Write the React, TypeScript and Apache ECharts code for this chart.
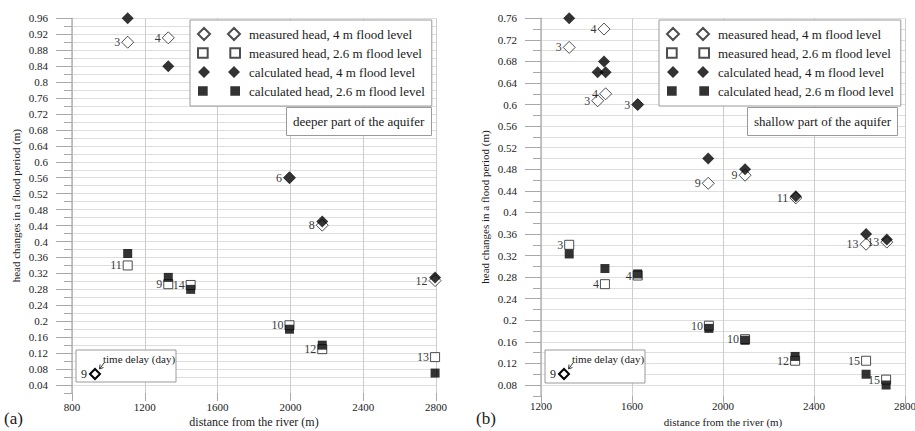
import React, { useEffect, useRef } from 'react';
import * as echarts from 'echarts';

const FONT = '"Liberation Serif", "DejaVu Serif", serif';
const TXT = '#1a1a1a';

// ---------- chart (a): deeper part of the aquifer ----------
const distA4 = [1106, 1329, 1995, 2175, 2795];
const measA4 = [0.90, 0.911, 0.56, 0.441, 0.302];
const calcA4 = [0.96, 0.84, 0.56, 0.45, 0.31];
const delayA4 = [3, 4, 6, 8, 12];

const distA26 = [1106, 1329, 1452, 1995, 2175, 2795];
const measA26 = [0.34, 0.293, 0.291, 0.19, 0.13, 0.11];
const calcA26 = [0.37, 0.31, 0.28, 0.18, 0.14, 0.07];
const delayA26 = [11, 9, 14, 10, 12, 13];

const xTicksA = [800, 1200, 1600, 2000, 2400, 2800];
const yTicksA = [0.04, 0.08, 0.12, 0.16, 0.2, 0.24, 0.28, 0.32, 0.36, 0.4, 0.44, 0.48,
  0.52, 0.56, 0.6, 0.64, 0.68, 0.72, 0.76, 0.8, 0.84, 0.88, 0.92, 0.96];

// ---------- chart (b): shallow part of the aquifer ----------
const distB4 = [1324, 1477, 1449, 1484, 1625, 1935, 2097, 2320, 2629, 2720];
const measB4 = [0.706, 0.74, 0.607, 0.62, 0.60, 0.454, 0.469, 0.427, 0.341, 0.345];
const calcB4 = [0.76, 0.68, 0.66, 0.66, 0.60, 0.50, 0.48, 0.43, 0.36, 0.35];
const delayB4 = [3, 4, 3, 4, 3, 9, 9, 11, 13, 13];

const distB26 = [1324, 1481, 1625, 1938, 2097, 2317, 2629, 2717];
const measB26 = [0.34, 0.267, 0.283, 0.19, 0.165, 0.125, 0.125, 0.09];
const calcB26 = [0.323, 0.296, 0.286, 0.185, 0.163, 0.133, 0.10, 0.08];
const delayB26 = [3, 4, 4, 10, 10, 12, 15, 15];

const xTicksB = [1200, 1600, 2000, 2400, 2800];
const yTicksB = [0.08, 0.12, 0.16, 0.2, 0.24, 0.28, 0.32, 0.36, 0.4, 0.44, 0.48, 0.52,
  0.56, 0.6, 0.64, 0.68, 0.72, 0.76];

const NAMES = [
  'measured head, 4 m flood level',
  'measured head, 2.6 m flood level',
  'calculated head, 4 m flood level',
  'calculated head, 2.6 m flood level',
];

const DIAMOND_PAIR = 'path://M0,6L6,0L12,6L6,12Z M30,6L36,0L42,6L36,12Z';
const SQUARE_PAIR = 'path://M1.5,1.5H10.5V10.5H1.5Z M31.5,1.5H40.5V10.5H31.5Z';
const DIAMOND = 'path://M0,6L6,0L12,6L6,12Z';

const fmt = (v: number) => String(+(+v).toFixed(2));

function makeSeries(
  xi: number, yi: number,
  d4: number[], m4: number[], c4: number[], l4: number[],
  d26: number[], m26: number[], c26: number[], l26: number[],
) {
  const lbl = () => ({
    show: true, position: 'left', distance: 1,
    formatter: (p: any) => String(p.value[2]),
    fontFamily: FONT, fontSize: 12, color: '#000000', textBorderWidth: 0,
  });
  const open = { color: '#ffffff', borderColor: '#222222', borderWidth: 1 };
  const fill = { color: '#000000' };
  return [
    {
      name: NAMES[0], type: 'scatter', xAxisIndex: xi, yAxisIndex: yi,
      symbol: DIAMOND, symbolSize: 12, itemStyle: open, label: lbl(),
      data: d4.map((d, i) => [d, m4[i], l4[i]]),
    },
    {
      name: NAMES[1], type: 'scatter', xAxisIndex: xi, yAxisIndex: yi,
      symbol: 'rect', symbolSize: 9, itemStyle: open, label: lbl(),
      data: d26.map((d, i) => [d, m26[i], l26[i]]),
    },
    {
      name: NAMES[2], type: 'scatter', xAxisIndex: xi, yAxisIndex: yi,
      symbol: DIAMOND, symbolSize: 12, itemStyle: fill,
      data: d4.map((d, i) => [d, c4[i]]),
    },
    {
      name: NAMES[3], type: 'scatter', xAxisIndex: xi, yAxisIndex: yi,
      symbol: 'rect', symbolSize: 9, itemStyle: fill,
      data: d26.map((d, i) => [d, c26[i]]),
    },
  ];
}

function makeLegend(left: number) {
  return {
    orient: 'vertical', left, top: 20, padding: [7, 7, 8, 7],
    itemWidth: 42, itemHeight: 12, itemGap: 5,
    borderColor: '#9a9a9a', borderWidth: 1, backgroundColor: '#ffffff',
    selectedMode: false,
    textStyle: { fontFamily: FONT, fontSize: 13, color: TXT, lineHeight: 14, padding: [0, 0, 0, 4] },
    data: [
      { name: NAMES[0], icon: DIAMOND_PAIR },
      { name: NAMES[1], icon: SQUARE_PAIR },
      { name: NAMES[2], icon: DIAMOND_PAIR },
      { name: NAMES[3], icon: SQUARE_PAIR },
    ],
  };
}

function xAxisDef(grid: number, min: number, ticks: number[], margin: number, nameGap: number, nameSize: number) {
  return {
    gridIndex: grid, type: 'value', min, max: 2800, interval: 200,
    axisLine: { show: false },
    axisTick: { show: true, customValues: ticks, length: 8, lineStyle: { color: '#a8a8a8' } },
    axisLabel: {
      customValues: ticks, margin, fontFamily: FONT, fontSize: 11, color: TXT,
      formatter: (v: number) => String(Math.round(v)),
    },
    splitLine: { show: true, lineStyle: { color: '#cdcdcd', width: 1 } },
    name: 'distance from the river (m)', nameLocation: 'middle', nameGap,
    nameMoveOverlap: false,
    nameTextStyle: { fontFamily: FONT, fontSize: nameSize, color: TXT },
  };
}

function yAxisDefs(grid: number, min: number, max: number, ticks: number[]) {
  return [
    {
      gridIndex: grid, type: 'value', min, max, interval: 0.02, position: 'left',
      axisLine: { show: true, lineStyle: { color: '#b4b4b4', width: 1.5 } },
      axisTick: { show: true, length: 8, lineStyle: { color: '#a8a8a8' } },
      axisLabel: { customValues: ticks, margin: 24, fontFamily: FONT, fontSize: 11, color: TXT, formatter: fmt },
      splitLine: { show: true, showMinLine: false, lineStyle: { color: '#dedede', width: 1 } },
      name: 'head changes in a flood period (m)', nameLocation: 'middle', nameGap: 51, nameRotate: 90,
      nameMoveOverlap: false,
      nameTextStyle: { fontFamily: FONT, fontSize: 11, color: TXT },
    },
    {
      gridIndex: grid, type: 'value', min, max, interval: 0.02, position: 'left',
      axisLine: { show: false },
      axisTick: { show: true, customValues: ticks, length: 16, lineStyle: { color: '#a8a8a8' } },
      axisLabel: { show: false },
      splitLine: { show: false },
    },
  ];
}

function annotation(bx: number, by: number, bh: number, cx: number, cy: number) {
  return {
    type: 'group', z: 10,
    children: [
      { type: 'rect', z: 10, shape: { x: bx, y: by, width: 100, height: bh }, style: { fill: '#ffffff', stroke: '#9a9a9a', lineWidth: 1 } },
      { type: 'polygon', z: 11, shape: { points: [[cx - 5, cy], [cx, cy - 5], [cx + 5, cy], [cx, cy + 5]] }, style: { fill: '#ffffff', stroke: '#000000', lineWidth: 2 } },
      { type: 'text', z: 11, x: cx - 8, y: cy, style: { text: '9', align: 'right', verticalAlign: 'middle', fontFamily: FONT, fontSize: 12, fill: TXT } },
      { type: 'text', z: 11, x: cx + 8, y: by + 9, style: { text: 'time delay (day)', align: 'left', verticalAlign: 'middle', fontFamily: FONT, fontSize: 11, fill: TXT } },
      { type: 'line', z: 11, shape: { x1: cx + 9, y1: cy - 11, x2: cx + 4.5, y2: cy - 5 }, style: { stroke: '#333333', lineWidth: 1 } },
      { type: 'polyline', z: 11, shape: { points: [[cx + 5, cy - 9.5], [cx + 4.5, cy - 5], [cx + 8.5, cy - 6.5]] }, style: { stroke: '#333333', lineWidth: 1, fill: 'none' } },
    ],
  };
}

export default function App() {
  const ref = useRef<HTMLDivElement>(null);
  useEffect(() => {
    if (!ref.current) return;
    const chart = echarts.init(ref.current, undefined, { renderer: 'svg' });
    const option: any = {
      animation: false,
      backgroundColor: '#ffffff',
      textStyle: { fontFamily: FONT },
      grid: [
        { left: 72, top: 18.3, width: 364, height: 374.7, containLabel: false, outerBoundsMode: 'none' },
        { left: 541, top: 18.3, width: 364, height: 377.5, containLabel: false, outerBoundsMode: 'none' },
      ],
      title: [
        {
          text: 'deeper part of the aquifer', left: 286, top: 107, padding: [7, 7, 7, 7],
          borderColor: '#9a9a9a', borderWidth: 1, backgroundColor: '#ffffff',
          textStyle: { fontFamily: FONT, fontSize: 13, fontWeight: 'normal', color: TXT, lineHeight: 15 },
        },
        {
          text: 'shallow part of the aquifer', left: 747, top: 107, padding: [7, 7, 7, 7],
          borderColor: '#9a9a9a', borderWidth: 1, backgroundColor: '#ffffff',
          textStyle: { fontFamily: FONT, fontSize: 13, fontWeight: 'normal', color: TXT, lineHeight: 15 },
        },
        {
          text: '(a)', left: 4, top: 410, padding: 0,
          textStyle: { fontFamily: FONT, fontSize: 17, fontWeight: 'normal', color: TXT },
        },
        {
          text: '(b)', left: 476, top: 410, padding: 0,
          textStyle: { fontFamily: FONT, fontSize: 17, fontWeight: 'normal', color: TXT },
        },
      ],
      legend: [makeLegend(190), makeLegend(659)],
      xAxis: [
        xAxisDef(0, 800, xTicksA, 8, 23, 12),
        xAxisDef(1, 1200, xTicksB, 5, 20.5, 11),
      ],
      yAxis: [
        ...yAxisDefs(0, 0.02, 0.96, yTicksA),
        ...yAxisDefs(1, 0.06, 0.76, yTicksB),
      ],
      graphic: [
        annotation(76, 350, 32, 95, 374),
        annotation(545, 350, 33, 564, 374),
      ],
      series: [
        ...makeSeries(0, 0, distA4, measA4, calcA4, delayA4, distA26, measA26, calcA26, delayA26),
        ...makeSeries(1, 2, distB4, measB4, calcB4, delayB4, distB26, measB26, calcB26, delayB26),
      ],
    };
    chart.setOption(option);
    return () => chart.dispose();
  }, []);
  return (
    <div
      ref={ref}
      style={{ position: 'fixed', left: 0, top: 0, width: 915, height: 431, background: '#fff' }}
    />
  );
}
